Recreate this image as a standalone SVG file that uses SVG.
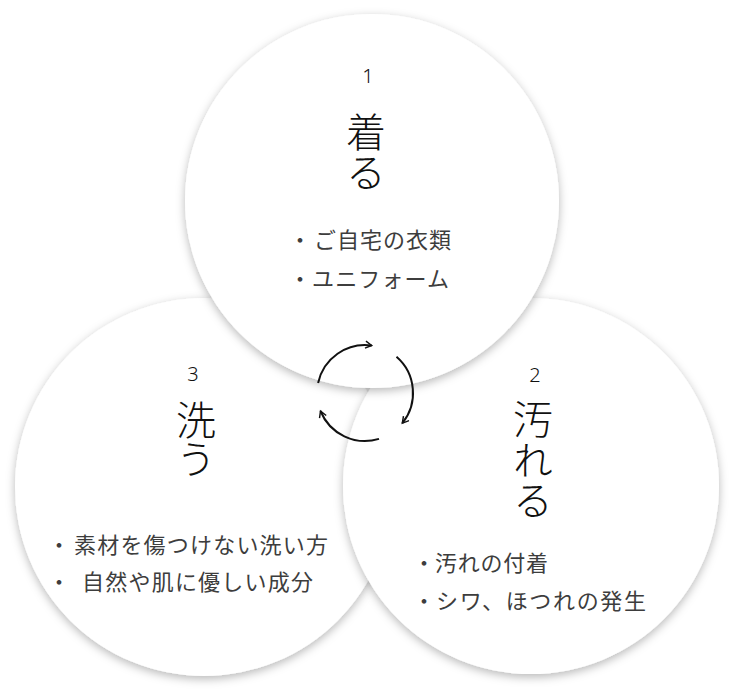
<svg xmlns="http://www.w3.org/2000/svg" width="737" height="694" viewBox="0 0 737 694">
<defs>
<filter id="sh" x="-20%" y="-20%" width="140%" height="140%">
<feDropShadow dx="0" dy="3" stdDeviation="5" flood-color="#000" flood-opacity="0.28"/>
</filter>
<marker id="ah" viewBox="0 0 10 10" refX="8" refY="5" markerWidth="9" markerHeight="9" markerUnits="userSpaceOnUse" orient="auto">
<path d="M1,1 L8,5 L1,9" fill="none" stroke="#111" stroke-width="1.6"/>
</marker>
</defs>
<style>
.c{fill:#fff;filter:url(#sh)}
.num{font-family:"Noto Sans","Noto Sans CJK JP",sans-serif;font-size:20px;font-weight:300;fill:#111;text-anchor:middle}
.ttl{font-family:"Noto Sans CJK JP",sans-serif;font-size:40px;font-weight:300;fill:#111;writing-mode:vertical-rl;text-orientation:upright}
.li{font-family:"Noto Sans CJK JP",sans-serif;font-size:22px;font-weight:400;fill:#3d3d3d}
.arr{fill:none;stroke:#111;stroke-width:2;marker-end:url(#ah)}
</style>
<rect width="737" height="694" fill="#fff"/>
<g id="node3">
<circle class="c" cx="204" cy="487" r="189"/>
</g>
<g id="node2">
<circle class="c" cx="531" cy="486" r="188"/>
</g>
<g id="node1">
<circle class="c" cx="372" cy="201" r="187"/>
</g>
<g id="node1-text">
<text class="num" x="368" y="83">1</text>
<text class="ttl" x="366" y="112">着る</text>
<text class="li" x="289" y="248">・<tspan x="314" textLength="137" lengthAdjust="spacing">ご自宅の衣類</tspan></text>
<text class="li" x="289" y="287">・<tspan x="312" textLength="137" lengthAdjust="spacing">ユニフォーム</tspan></text>
</g>
<g id="node2-text">
<text class="num" x="535" y="382">2</text>
<text class="ttl" x="533" y="399" letter-spacing="0.5">汚れる</text>
<text class="li" x="413" y="571">・<tspan x="435" textLength="113" lengthAdjust="spacing">汚れの付着</tspan></text>
<text class="li" x="413" y="609">・<tspan x="436" textLength="210" lengthAdjust="spacing">シワ、ほつれの発生</tspan></text>
</g>
<g id="node3-text">
<text class="num" x="193" y="381">3</text>
<text class="ttl" x="196" y="400" letter-spacing="-1">洗う</text>
<text class="li" x="48" y="553">・<tspan x="74" textLength="254" lengthAdjust="spacing">素材を傷つけない洗い方</tspan></text>
<text class="li" x="48" y="590">・ <tspan x="82" textLength="231" lengthAdjust="spacing">自然や肌に優しい成分</tspan></text>
</g>
<g id="connectors">
<path class="arr" d="M318.1,383 A48,48 0 0 1 371.7,345.5"/>
<path class="arr" d="M396.5,356.8 A48,48 0 0 1 402.3,423.2"/>
<path class="arr" d="M379,438.9 A48,48 0 0 1 320.5,411"/>
</g>
</svg>
